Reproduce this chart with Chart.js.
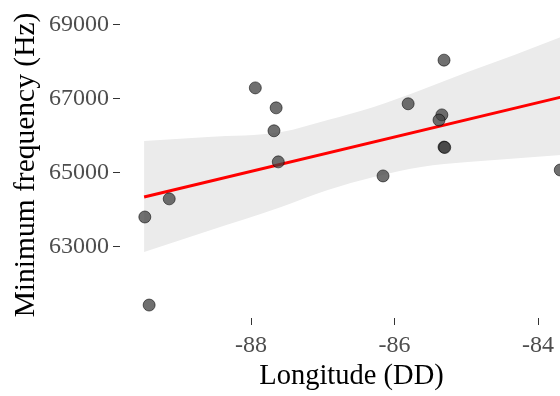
<!DOCTYPE html>
<html>
<head>
<meta charset="utf-8">
<script src="https://cdn.jsdelivr.net/npm/chart.js@4.4.1/dist/chart.umd.min.js"></script>
<style>
  html, body { margin:0; padding:0; background:#fff; overflow:hidden; }
  /* the panel runs past the right edge of the window, as in the cropped figure */
  #wrap { width:590px; height:396px; }
</style>
</head>
<body>
<div id="wrap"><canvas id="lonChart"></canvas></div>
<script>
// site observations: longitude (decimal degrees) vs minimum frequency (Hz)
const longitude = [-89.48, -89.42, -89.14, -87.94, -87.65, -87.68, -87.62, -86.16, -85.81, -85.31, -85.34, -85.38, -85.31, -85.30, -83.69]
const minFreq = [63810, 61430, 64300, 67300, 66760, 66140, 65300, 64920, 66870, 68050, 66570, 66430, 65700, 65690, 65080]

// linear fit and its confidence band
const fitLon = [-89.49, -83.68]
const fitFreq = [64350, 67050]
const bandLon = [-89.49, -88.60, -87.58, -86.93, -86.29, -85.63, -84.98, -84.33, -83.68]
const bandUpper = [65865, 65973, 66108, 66432, 66784, 67243, 67730, 68189, 68676]
const bandLower = [62864, 63432, 64081, 64540, 64891, 65162, 65297, 65392, 65486]

const xTicks = [-88, -86, -84]
const yTicks = [63000, 65000, 67000, 69000]

const pts = (xs, ys) => xs.map((x, i) => ({x: x, y: ys[i]}))
const serif = 'Liberation Serif'

new Chart(document.getElementById('lonChart'), {
    type: 'scatter',
    data: {
        datasets: [
            {
                label: 'sites',
                data: pts(longitude, minFreq),
                backgroundColor: 'rgba(62,62,62,0.74)',
                borderColor: 'rgba(0,0,0,0.55)',
                borderWidth: 1,
                pointRadius: 6,
                order: 0
            },
            {
                label: 'fit',
                data: pts(fitLon, fitFreq),
                showLine: true,
                borderColor: '#ff0000',
                borderWidth: 3,
                pointRadius: 0,
                order: 1
            },
            {
                label: 'upper',
                data: pts(bandLon, bandUpper),
                showLine: true,
                borderColor: 'rgba(0,0,0,0)',
                borderWidth: 0,
                backgroundColor: '#ebebeb',
                pointRadius: 0,
                fill: '+1',
                cubicInterpolationMode: 'monotone',
                order: 2
            },
            {
                label: 'lower',
                data: pts(bandLon, bandLower),
                showLine: true,
                borderColor: 'rgba(0,0,0,0)',
                borderWidth: 0,
                pointRadius: 0,
                fill: false,
                cubicInterpolationMode: 'monotone',
                order: 3
            }
        ]
    },
    options: {
        animation: false,
        responsive: true,
        maintainAspectRatio: false,
        layout: { padding: { top: 12, right: 0, left: 0, bottom: 0 } },
        plugins: {
            legend: { display: false },
            tooltip: { enabled: false }
        },
        scales: {
            x: {
                type: 'linear',
                min: -89.826,
                max: -83.373,
                afterBuildTicks: s => { s.ticks = xTicks.map(v => ({value: v})) },
                afterFit: s => {
                    s.height = 78
                    s.paddingLeft = 0
                    s.paddingRight = 0
                },
                grid: { drawOnChartArea: false, drawTicks: true, tickLength: 7, color: '#333333', lineWidth: 1 },
                border: { display: false },
                ticks: {
                    color: '#4d4d4d',
                    font: { family: serif, size: 24 },
                    padding: 6,
                    maxRotation: 0,
                    callback: v => String(v)
                },
                title: {
                    display: true,
                    text: 'Longitude (DD)',
                    color: '#000000',
                    font: { family: serif, size: 28.5 },
                    padding: { top: 0, bottom: 2 }
                }
            },
            y: {
                type: 'linear',
                min: 61080,
                max: 69351,
                afterBuildTicks: s => { s.ticks = yTicks.map(v => ({value: v})) },
                afterFit: s => {
                    s.width = 120
                    s.paddingTop = 0
                    s.paddingBottom = 0
                },
                grid: { drawOnChartArea: false, drawTicks: true, tickLength: 7, color: '#333333', lineWidth: 1 },
                border: { display: false },
                ticks: {
                    color: '#4d4d4d',
                    font: { family: serif, size: 24 },
                    padding: 4,
                    callback: v => String(v)
                },
                title: {
                    display: true,
                    text: 'Minimum frequency (Hz)',
                    color: '#000000',
                    font: { family: serif, size: 29.5 },
                    padding: { top: 9, bottom: 0 }
                }
            }
        }
    }
})
</script>
</body>
</html>
